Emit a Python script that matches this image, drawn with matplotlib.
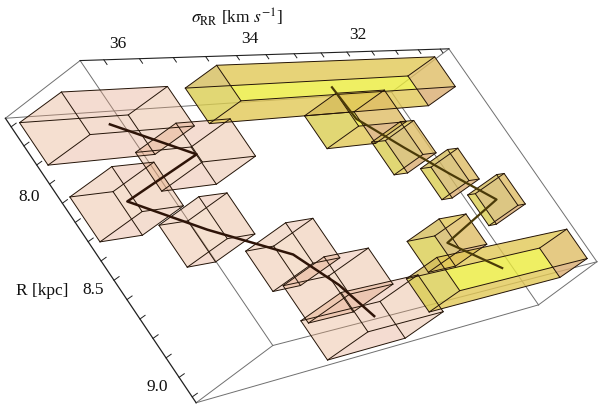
import numpy as np
import matplotlib
matplotlib.use('Agg')
import matplotlib.pyplot as plt
from matplotlib.patches import Polygon

plt.rcParams['mathtext.fontset'] = 'stix'
plt.rcParams['font.family'] = ['Liberation Serif', 'DejaVu Serif']

# box ranges, third axis has no scale in the original
sigma_hi_pink = [36.32, 35.34, 35.81, 35.13, 34.46, 34.27, 34.32]
sigma_lo_pink = [34.78, 34.48, 35.19, 34.68, 33.98, 33.45, 32.84]
r_min_pink = [7.601, 7.858, 7.922, 8.169, 8.421, 8.640, 8.834]
r_max_pink = [7.831, 8.077, 8.170, 8.407, 8.656, 8.859, 9.063]
z_low_pink = [-0.341, -0.125, -0.729, -0.537, -0.306, -0.292, -0.320]
z_top_pink = [0.260, 0.477, -0.114, 0.061, 0.306, 0.338, 0.296]

sigma_hi_yellow = [35.59, 33.95, 33.21, 32.76, 32.29, 33.06, 33.67]
sigma_lo_yellow = [31.56, 33.03, 32.94, 32.54, 32.12, 32.49, 30.72]
r_min_yellow = [7.792, 7.981, 8.184, 8.385, 8.587, 8.684, 8.897]
r_max_yellow = [7.990, 8.178, 8.386, 8.580, 8.783, 8.875, 9.096]
z_low_yellow = [0.973, 0.934, 1.006, 1.074, 1.125, 0.563, 0.657]
z_top_yellow = [1.432, 1.425, 1.465, 1.513, 1.602, 1.075, 1.132]

sigma_ticks = [36.5, 36, 35.5, 35, 34.5, 34, 33.5, 33, 32.5, 32, 31.5, 31, 30.5]
r_ticks = [7.7, 7.8, 7.9, 8.0, 8.1, 8.2, 8.3, 8.4, 8.5, 8.6, 8.7, 8.8, 8.9, 9.0, 9.1]

SIG_A, SIG_B = 36.9, 30.3
R_A, R_B = 7.63, 9.11

# frame limits per level of the third axis (level 0, level 1)
frame_sigma = [(36.9, 30.4), (36.82, 30.3)]
frame_r = [(7.655, 9.13), (7.63, 9.11)]

# camera: where known points of the frame sit on the image
calib = [
    (SIG_A, R_A, 1, 79, 61), (SIG_A, R_A, 0, 3, 118), (SIG_B, R_A, 1, 449, 49), (SIG_B, R_A, 0, 398, 85),
    (SIG_A, R_B, 1, 274, 346), (SIG_A, R_B, 0, 193, 403), (SIG_B, R_B, 1, 597, 260), (SIG_B, R_B, 0, 537, 305),
    (36, R_A, 1, 130, 60), (34, R_A, 1, 263, 55), (32, R_A, 1, 373, 52),
    (SIG_A, 8.0, 0, 50, 182), (SIG_A, 8.5, 0, 113, 277), (SIG_A, 9.0, 0, 178, 373),
]


def fit_camera(points):
    A = []
    b = []
    for s, r, z, x, y in points:
        A.append([s, r, z, 1, 0, 0, 0, 0, -x*s, -x*r, -x*z])
        b.append(x)
        A.append([0, 0, 0, 0, s, r, z, 1, -y*s, -y*r, -y*z])
        b.append(y)
    A = np.array(A, float)
    b = np.array(b, float)
    sc = np.abs(A).max(axis=0)
    p = np.linalg.lstsq(A/sc, b, rcond=None)[0]/sc
    return np.array([p[:4], p[4:8], list(p[8:]) + [1]])


CAM = fit_camera(calib)


def proj(s, r, z):
    v = CAM @ np.array([s, r, z, 1.0])
    return v[:2]/v[2]


def draw_box(ax, sh, sl, r0, r1, z0, z1, colors, alpha):
    a = proj(sh, r0, z0)
    b = proj(sh, r0, z1)
    c = proj(sh, r1, z1)
    d = proj(sh, r1, z0)
    e = proj(sl, r0, z0)
    f = proj(sl, r0, z1)
    g = proj(sl, r1, z1)
    h = proj(sl, r1, z0)
    # z faces under the others, that is where the tan strips come from
    faces = [([a, d, h, e], 'z'), ([b, c, g, f], 'z'), ([a, b, f, e], 'r'), ([c, d, h, g], 'r'),
             ([e, f, g, h], 'sl'), ([a, b, c, d], 'sh')]
    for pts, key in faces:
        ax.add_patch(Polygon(pts, closed=True, fc=colors[key], alpha=alpha, ec='none', zorder=2))
    edges = [(a, b), (b, c), (c, d), (d, a), (e, f), (f, g), (g, h), (h, e), (a, e), (b, f), (c, g), (d, h)]
    for p0, p1 in edges:
        ax.plot([p0[0], p1[0]], [p0[1], p1[1]], color='#241408', lw=0.7, zorder=3,
                solid_capstyle='round')


pink = {'z': '#E3A37D', 'r': '#E09C82', 'sl': '#E3A878', 'sh': '#E8AC7C'}
yellow = {'z': '#EBEB3C', 'r': '#DEB861', 'sl': '#D9A878', 'sh': '#D2C05A'}

fig = plt.figure(figsize=(6, 4.05), dpi=100)
ax = fig.add_axes([0, 0, 1, 1])
ax.set_xlim(0, 600)
ax.set_ylim(405, 0)
ax.axis('off')


# bounding frame
def corner(i, j, k):
    return proj(frame_sigma[k][i], frame_r[k][j], k)


frame = [((0, 0, 0), (0, 0, 1)), ((0, 0, 0), (1, 0, 0)), ((1, 0, 0), (1, 0, 1)),
         ((0, 0, 1), (0, 1, 1)), ((1, 0, 1), (1, 1, 1)), ((1, 0, 0), (1, 1, 0)),
         ((0, 1, 0), (0, 1, 1)), ((0, 1, 0), (1, 1, 0)), ((0, 1, 1), (1, 1, 1)),
         ((1, 1, 0), (1, 1, 1))]
for n0, n1 in frame:
    p0 = corner(*n0)
    p1 = corner(*n1)
    ax.plot([p0[0], p1[0]], [p0[1], p1[1]], color='#707070', lw=0.7, zorder=1)

# the two axes that carry ticks
p0, p1 = corner(0, 0, 1), corner(1, 0, 1)
ax.plot([p0[0], p1[0]], [p0[1], p1[1]], color='#202020', lw=0.8, zorder=1)
p0, p1 = corner(0, 0, 0), corner(0, 1, 0)
ax.plot([p0[0], p1[0]], [p0[1], p1[1]], color='#202020', lw=0.9, zorder=1)
for s in sigma_ticks:
    t0 = proj(s, R_A, 1)
    t1 = proj(s, R_A + 0.025, 1)
    ax.plot([t0[0], t1[0]], [t0[1], t1[1]], color='#202020', lw=0.7, zorder=1)
for r in r_ticks:
    t0 = proj(SIG_A, r, 0)
    t1 = proj(SIG_A, r, 0.07)
    ax.plot([t0[0], t1[0]], [t0[1], t1[1]], color='#202020', lw=0.7, zorder=1)

for i in range(len(sigma_hi_pink)):
    draw_box(ax, sigma_hi_pink[i], sigma_lo_pink[i], r_min_pink[i], r_max_pink[i],
             z_low_pink[i], z_top_pink[i], pink, 0.2)
for i in range(len(sigma_hi_yellow)):
    draw_box(ax, sigma_hi_yellow[i], sigma_lo_yellow[i], r_min_yellow[i], r_max_yellow[i],
             z_low_yellow[i], z_top_yellow[i], yellow, 0.55)


def centres(sh, sl, r0, r1, z0, z1):
    pts = []
    for i in range(len(sh)):
        pts.append(proj((sh[i]+sl[i])/2, (r0[i]+r1[i])/2, (z0[i]+z1[i])/2))
    return np.array(pts)


line_pink = centres(sigma_hi_pink, sigma_lo_pink, r_min_pink, r_max_pink, z_low_pink, z_top_pink)
line_yellow = centres(sigma_hi_yellow, sigma_lo_yellow, r_min_yellow, r_max_yellow, z_low_yellow, z_top_yellow)
ax.plot(line_pink[:, 0], line_pink[:, 1], color='#2E1408', lw=1.8, zorder=4)
ax.plot(line_yellow[:, 0], line_yellow[:, 1], color='#4A3A08', lw=1.6, zorder=4)

# labels
fs = 12.5
for x, y, s in [(118, 44, '36'), (250, 39, '34'), (358, 35, '32'),
                (29, 197, '8.0'), (93, 290, '8.5'), (157, 387, '9.0')]:
    ax.text(x, y, s, fontsize=fs, ha='center', va='center', color='#111111')
ax.text(237, 17, r'$\sigma_{\mathrm{RR}}$ [km $s^{-1}$]', fontsize=fs, ha='center', va='center', color='#111111')
ax.text(42, 291, 'R [kpc]', fontsize=fs, ha='center', va='center', color='#111111')

fig.savefig('out.png', dpi=100)
